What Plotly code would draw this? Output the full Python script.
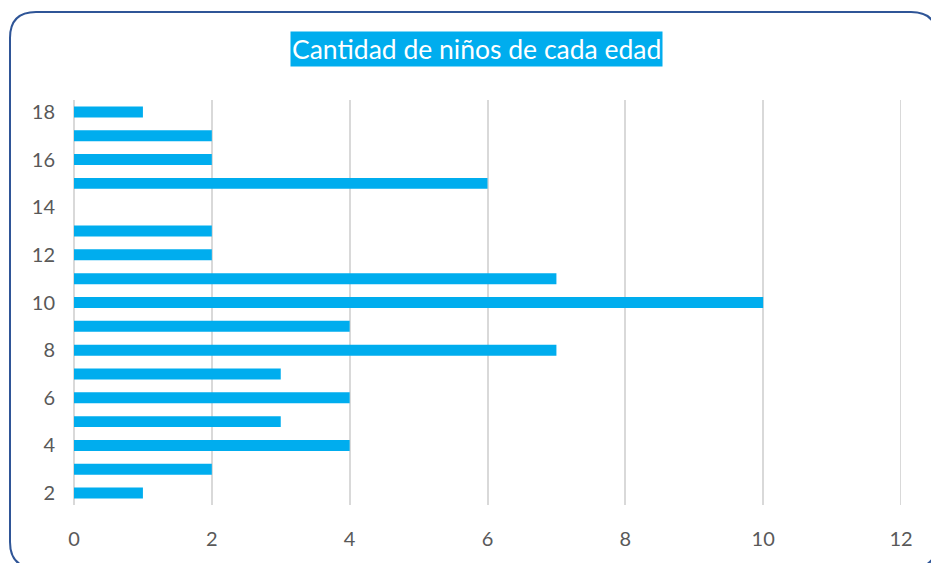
import plotly.graph_objects as go

ages = [2, 3, 4, 5, 6, 7, 8, 9, 10, 11, 12, 13, 14, 15, 16, 17, 18]
counts = [1, 2, 4, 3, 4, 3, 7, 4, 10, 7, 2, 2, 0, 6, 2, 2, 1]
title_text = "Cantidad de niños de cada edad"
x_ticks = [0, 2, 4, 6, 8, 10, 12]
y_ticks = [2, 4, 6, 8, 10, 12, 14, 16, 18]
x_max = 12

W, H = 931, 563
L, R, T, B = 74, 30, 100, 58
pw, ph = W - L - R, H - T - B

def px(x):
    return (x - L) / pw

def py(y):
    return (H - B - y) / ph

fig = go.Figure(go.Bar(
    x=counts, y=ages, orientation="h", width=0.46,
    marker=dict(color="#00ADEE", line=dict(width=0)),
    hoverinfo="x+y",
))

# last gridline at the right edge of the range
fig.add_shape(type="line", x0=x_max, x1=x_max, y0=0, y1=1, xref="x", yref="paper",
              line=dict(color="#D9D9D9", width=2), layer="below")

# rounded border
x0, y0, x1, y1, r = 10, 12, 937, 568, 26
path = (f"M {px(x0)},{py(y0 + r)} Q {px(x0)},{py(y0)} {px(x0 + r)},{py(y0)} "
        f"L {px(x1 - r)},{py(y0)} Q {px(x1)},{py(y0)} {px(x1)},{py(y0 + r)} "
        f"L {px(x1)},{py(y1 - r)} Q {px(x1)},{py(y1)} {px(x1 - r)},{py(y1)} "
        f"L {px(x0 + r)},{py(y1)} Q {px(x0)},{py(y1)} {px(x0)},{py(y1 - r)} Z")
fig.add_shape(type="path", path=path, xref="paper", yref="paper",
              line=dict(color="#2F5597", width=2), layer="above")

fig.add_annotation(
    text=title_text, x=px(476), y=py(49), xref="paper", yref="paper",
    showarrow=False, bgcolor="#00ADEE", borderpad=1,
    font=dict(family="Lato", size=26.5, color="white"),
    xanchor="center", yanchor="middle",
)

fig.update_layout(
    width=W, height=H, margin=dict(l=L, r=R, t=T, b=B),
    paper_bgcolor="white", plot_bgcolor="white",
    showlegend=False,
    font=dict(family="Lato", size=20, color="#595959"),
    xaxis=dict(range=[0, x_max], tickvals=x_ticks, showgrid=True,
               gridcolor="#D9D9D9", gridwidth=2, zeroline=True,
               zerolinecolor="#D9D9D9", zerolinewidth=2,
               showline=False, ticks="outside", ticklen=16,
               tickcolor="rgba(0,0,0,0)", fixedrange=True),
    yaxis=dict(range=[1.5, 18.5], tickvals=y_ticks, showgrid=False,
               zeroline=False, showline=False, ticks="outside", ticklen=14,
               tickcolor="rgba(0,0,0,0)", fixedrange=True),
)

fig.write_html("out.html", config={"displayModeBar": False},
               post_script="document.body.style.margin='0px';")
